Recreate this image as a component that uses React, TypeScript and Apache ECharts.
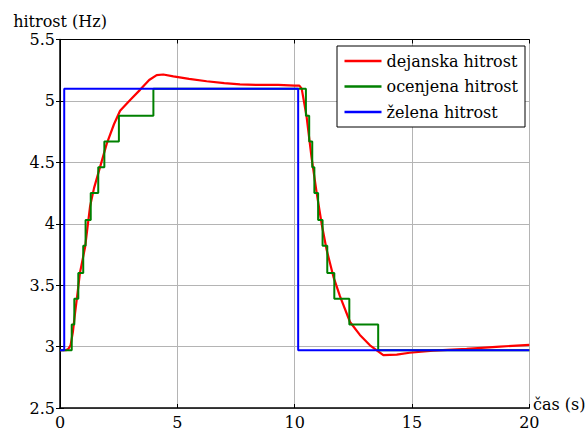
import React, { useEffect, useRef } from "react";
import * as echarts from "echarts";

// Actual speed (red) [time s, Hz]
const actualSpeed: [number, number][] = [
  [0, 2.97], [0.25, 2.97], [0.35, 2.98], [0.45, 3.01], [0.55, 3.12], [0.64, 3.27],
  [0.75, 3.44], [0.85, 3.6], [1.07, 3.81], [1.28, 4.14], [1.45, 4.29], [1.63, 4.41],
  [1.99, 4.65], [2.3, 4.81], [2.56, 4.92], [3.0, 5.01], [3.41, 5.09], [3.8, 5.17],
  [4.12, 5.21], [4.4, 5.215], [4.83, 5.2], [5.5, 5.18], [6.25, 5.16], [7.0, 5.145],
  [7.67, 5.135], [8.5, 5.13], [9.3, 5.13], [10.0, 5.125], [10.2, 5.125], [10.3, 5.1],
  [10.51, 4.87], [10.72, 4.54], [10.94, 4.25], [11.15, 4.0], [11.36, 3.79], [11.65, 3.57],
  [11.93, 3.41], [12.36, 3.2], [12.78, 3.095], [13.21, 3.01], [13.5, 2.97], [13.78, 2.93],
  [14.35, 2.935], [14.9, 2.95], [15.9, 2.967], [17.33, 2.981], [18.75, 3.0], [20, 3.014],
];

// Estimated speed (green): quantised levels and switching times
const estLevels = [2.97, 3.18, 3.39, 3.6, 3.82, 4.03, 4.25, 4.46, 4.67, 4.88, 5.1];
const estRiseTimes = [0.5, 0.61, 0.78, 0.99, 1.09, 1.31, 1.63, 1.89, 2.51, 3.98];
const estFallTimes = [10.48, 10.62, 10.75, 10.84, 11.0, 11.19, 11.39, 11.69, 12.33, 13.56];

// Desired speed (blue)
const desiredTimes = [0, 0.18, 0.18, 10.15, 10.15, 20];
const desiredValues = [2.97, 2.97, 5.1, 5.1, 2.97, 2.97];

const seriesNames = ["dejanska hitrost", "ocenjena hitrost", "želena hitrost"];
const xTicks = { min: 0, max: 20, interval: 5 };
const yTicks = { min: 2.5, max: 5.5, interval: 0.5 };

const FONT = "DejaVu Serif";

export default function App() {
  const ref = useRef<HTMLDivElement>(null);
  useEffect(() => {
    if (!ref.current) return;
    const chart = echarts.init(ref.current, null, { renderer: "svg" });

    const est: [number, number][] = [[0, estLevels[0]]];
    estRiseTimes.forEach((t, i) => {
      est.push([t, estLevels[i]]);
      est.push([t, estLevels[i + 1]]);
    });
    const top = estLevels.length - 1;
    estFallTimes.forEach((t, j) => {
      est.push([t, estLevels[top - j]]);
      est.push([t, estLevels[top - j - 1]]);
    });
    est.push([20, estLevels[0]]);

    const desired = desiredTimes.map((t, i) => [t, desiredValues[i]]);

    const axisText = { fontFamily: FONT, fontSize: 16, color: "#000" };

    chart.setOption({
      animation: false,
      backgroundColor: "#fff",
      textStyle: { fontFamily: FONT },
      grid: { left: 60, right: 56.7, top: 39.5, bottom: 21.8, containLabel: false },
      xAxis: [
        {
          type: "value",
          ...xTicks,
          axisLine: { show: true, lineStyle: { color: "#000", width: 1.5 } },
          axisTick: { show: true, inside: true, length: 4, lineStyle: { color: "#000" } },
          axisLabel: { ...axisText, margin: 6 },
          splitLine: { show: true, lineStyle: { color: "#b4b4b4", width: 1 } },
        },
        {
          type: "value",
          position: "top",
          ...xTicks,
          axisLine: { show: true, lineStyle: { color: "#000", width: 1 } },
          axisTick: { show: true, inside: true, length: 4, lineStyle: { color: "#000" } },
          axisLabel: { show: false },
          splitLine: { show: false },
        },
      ],
      yAxis: [
        {
          type: "value",
          ...yTicks,
          axisLine: { show: true, lineStyle: { color: "#000", width: 1.5 } },
          axisTick: { show: true, inside: true, length: 4, lineStyle: { color: "#000" } },
          axisLabel: { ...axisText, margin: 5 },
          splitLine: { show: true, lineStyle: { color: "#b4b4b4", width: 1 } },
        },
        {
          type: "value",
          position: "right",
          ...yTicks,
          axisLine: { show: true, lineStyle: { color: "#000", width: 1 } },
          axisTick: { show: true, inside: true, length: 4, lineStyle: { color: "#000" } },
          axisLabel: { show: false },
          splitLine: { show: false },
        },
      ],
      legend: {
        data: seriesNames,
        orient: "vertical",
        left: 337,
        top: 46,
        padding: [5, 7, 5, 7.5],
        itemGap: 5.5,
        itemWidth: 37,
        itemHeight: 2.5,
        icon: "rect",
        backgroundColor: "#fff",
        borderColor: "#000",
        borderWidth: 1,
        borderRadius: 0,
        textStyle: { fontFamily: FONT, fontSize: 16, color: "#000", lineHeight: 20 },
      },
      graphic: [
        {
          type: "text",
          x: 60,
          y: 21,
          style: { text: "hitrost (Hz)", fontFamily: FONT, fontSize: 16, fill: "#000", align: "center", verticalAlign: "middle" },
        },
        {
          type: "text",
          x: 533,
          y: 404,
          style: { text: "čas (s)", fontFamily: FONT, fontSize: 16, fill: "#000", align: "left", verticalAlign: "middle" },
        },
      ],
      series: [
        {
          name: seriesNames[0],
          type: "line",
          data: actualSpeed,
          showSymbol: false,
          symbol: "none",
          lineStyle: { color: "#ff0000", width: 2.2 },
          itemStyle: { color: "#ff0000" },
          z: 2,
        },
        {
          name: seriesNames[1],
          type: "line",
          data: est,
          showSymbol: false,
          symbol: "none",
          lineStyle: { color: "#008000", width: 2 },
          itemStyle: { color: "#008000" },
          z: 3,
        },
        {
          name: seriesNames[2],
          type: "line",
          data: desired,
          showSymbol: false,
          symbol: "none",
          lineStyle: { color: "#0000ff", width: 2 },
          itemStyle: { color: "#0000ff" },
          z: 4,
        },
      ],
    });
    return () => chart.dispose();
  }, []);
  return (
    <div
      ref={ref}
      style={{ position: "fixed", left: 0, top: 0, width: 586, height: 430, background: "#fff" }}
    />
  );
}
